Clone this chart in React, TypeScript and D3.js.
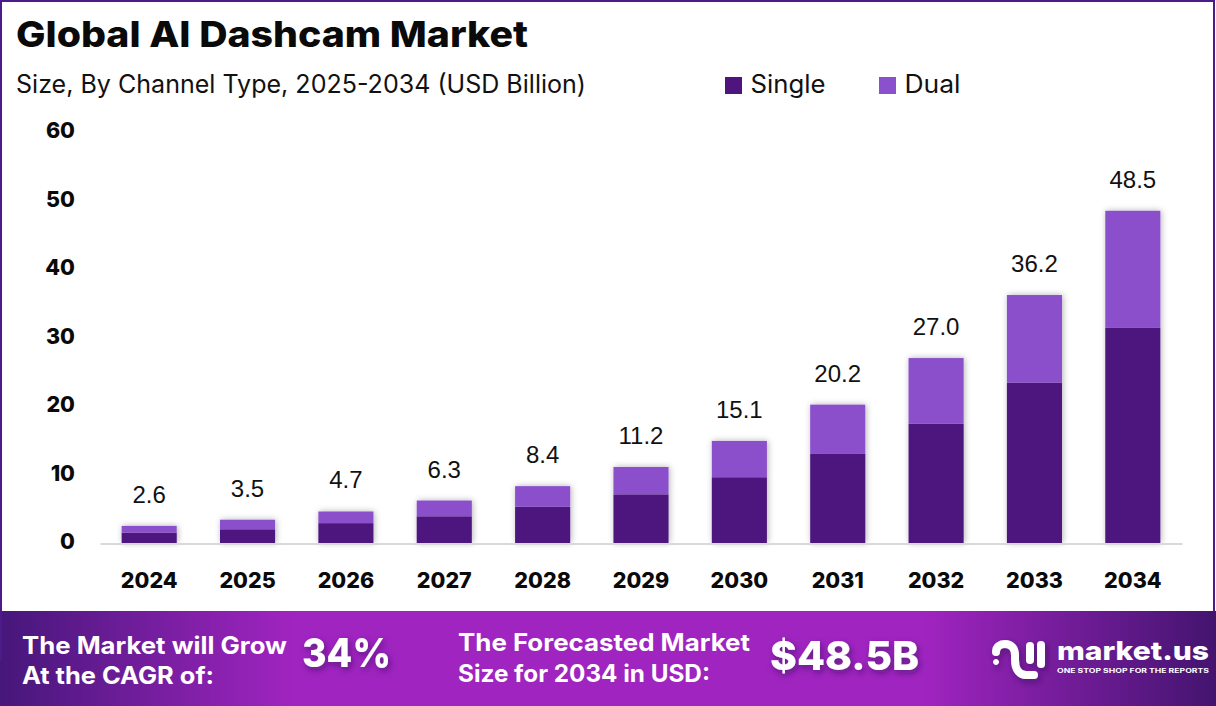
import React, { useEffect, useRef } from 'react';
import * as d3 from 'd3';

const years = ['2024', '2025', '2026', '2027', '2028', '2029', '2030', '2031', '2032', '2033', '2034'];
const single = [1.5, 2.0, 2.9, 3.9, 5.3, 7.1, 9.6, 13.0, 17.4, 23.4, 31.4];
const dual = [1.0, 1.4, 1.7, 2.3, 3.0, 4.0, 5.3, 7.2, 9.6, 12.8, 17.1];
const totals = ['2.6', '3.5', '4.7', '6.3', '8.4', '11.2', '15.1', '20.2', '27.0', '36.2', '48.5'];
const yTicks = [0, 10, 20, 30, 40, 50, 60];
const seriesNames = ['Single', 'Dual'];
const seriesColors = ['#4e157f', '#8b50cc'];

const width = 1216;
const height = 706;
const font = 'Inter, "Open Sans", sans-serif';

export default function App() {
  const svgRef = useRef<SVGSVGElement>(null);

  useEffect(() => {
    if (!svgRef.current) return;
    const svg = d3.select(svgRef.current);
    svg.selectAll('*').remove();

    const defs = svg.append('defs');

    const bannerGrad = defs.append('linearGradient').attr('id', 'banner');
    [['0%', '#46177a'], ['24%', '#a024c0'], ['76%', '#a024c0'], ['100%', '#43146f']].forEach(([o, c]) => {
      bannerGrad.append('stop').attr('offset', o).attr('stop-color', c);
    });

    const barShadow = defs.append('filter').attr('id', 'barShadow').attr('x', '-20%').attr('y', '-10%').attr('width', '140%').attr('height', '120%');
    barShadow.append('feDropShadow').attr('dx', 1).attr('dy', 0).attr('stdDeviation', 3).attr('flood-color', '#000').attr('flood-opacity', 0.3);

    const textShadow = defs.append('filter').attr('id', 'textShadow').attr('x', '-20%').attr('y', '-30%').attr('width', '140%').attr('height', '170%');
    textShadow.append('feDropShadow').attr('dx', 2).attr('dy', 3).attr('stdDeviation', 3).attr('flood-color', '#2a0a50').attr('flood-opacity', 0.55);

    svg.append('rect').attr('width', width).attr('height', height).attr('fill', '#fff');

    const text = (
      x: number, y: number, s: string, size: number, weight: number, fill: string,
      opts: { anchor?: string; len?: number } = {}
    ) => {
      const t = svg.append('text').attr('x', x).attr('y', y).text(s)
        .attr('font-family', font).attr('font-size', size).attr('font-weight', weight)
        .attr('fill', fill).attr('text-anchor', opts.anchor || 'start');
      if (opts.len) t.attr('textLength', opts.len).attr('lengthAdjust', 'spacingAndGlyphs');
      return t;
    };

    // Titles
    text(16, 47, 'Global AI Dashcam Market', 36, 800, '#0a0a0a', { len: 512 });
    text(16, 93, 'Size, By Channel Type, 2025-2034 (USD Billion)', 25, 400, '#111', { len: 570 });

    // Legend
    const legendX = [725, 879];
    seriesNames.forEach((name, i) => {
      svg.append('rect').attr('x', legendX[i]).attr('y', 77).attr('width', 17).attr('height', 17).attr('fill', seriesColors[i]);
      text(legendX[i] + 25.5, 93, name, 25, 400, '#111', { len: i === 0 ? 75 : 56 });
    });

    // Scales
    const x = d3.scaleBand().domain(years).range([100, 1182]).paddingInner(0.44).paddingOuter(0.22);
    const y = d3.scaleLinear().domain([0, 60]).range([543, 132]);

    const rows = years.map((year, i) => ({ year, Single: single[i], Dual: dual[i] }));
    const stacked = d3.stack<any>().keys(seriesNames)(rows);

    // Bars
    const barsG = svg.append('g');
    barsG.selectAll('g')
      .data(stacked)
      .enter()
      .append('g')
      .attr('fill', (_d, i) => seriesColors[i])
      .selectAll('rect')
      .data(d => d)
      .enter()
      .append('rect')
      .attr('x', d => x(d.data.year) as number)
      .attr('y', d => y(d[1]))
      .attr('width', x.bandwidth())
      .attr('height', d => y(d[0]) - y(d[1]));
    barsG.attr('filter', 'url(#barShadow)');

    // Axes
    const xAxis = svg.append('g').attr('transform', 'translate(0,543.5)')
      .call(d3.axisBottom(x).tickSize(0).tickPadding(44));
    xAxis.select('.domain').attr('stroke', '#d9d9d9').attr('stroke-width', 2);
    xAxis.selectAll('text').attr('font-family', font).attr('font-size', 21.5).attr('font-weight', 800).attr('fill', '#0a0a0a').attr('dy', '0');

    const yAxis = svg.append('g').attr('transform', 'translate(75,-1)')
      .call(d3.axisLeft(y).tickValues(yTicks).tickSize(0).tickPadding(0));
    yAxis.select('.domain').remove();
    yAxis.selectAll('text').attr('font-family', font).attr('font-size', 21.5).attr('font-weight', 800).attr('fill', '#0a0a0a');

    // Total labels
    svg.append('g').selectAll('text')
      .data(years)
      .enter()
      .append('text')
      .attr('x', d => (x(d) as number) + x.bandwidth() / 2)
      .attr('y', (_d, i) => y(single[i] + dual[i]) - 23)
      .attr('text-anchor', 'middle')
      .attr('font-family', '"Liberation Sans", Arial, sans-serif')
      .attr('font-size', 24)
      .attr('fill', '#111')
      .text((_d, i) => totals[i]);

    // Banner
    svg.append('rect').attr('x', 0).attr('y', 611).attr('width', width).attr('height', 95).attr('fill', 'url(#banner)');
    text(22, 654, 'The Market will Grow', 24, 700, '#fff', { len: 265 });
    text(22, 684, 'At the CAGR of:', 24, 700, '#fff', { len: 192 });
    text(302, 667, '34%', 40, 800, '#fff', { len: 89 }).attr('filter', 'url(#textShadow)');
    text(458, 651, 'The Forecasted Market', 24, 700, '#fff', { len: 292 });
    text(458, 682, 'Size for 2034 in USD:', 24, 700, '#fff', { len: 252 });
    text(770, 670, '$48.5B', 40, 800, '#fff', { len: 149 }).attr('filter', 'url(#textShadow)');

    // Frame, open at the bottom: left side runs a little over the banner
    svg.append('path').attr('d', 'M1 661 L1 1 L1214 1 L1214 611')
      .attr('fill', 'none').attr('stroke', '#4e1a8a').attr('stroke-width', 2);

    // Logo
    const logo = svg.append('g').attr('filter', 'url(#textShadow)').attr('fill', 'none').attr('stroke', '#fff').attr('stroke-width', 8).attr('stroke-linecap', 'round');
    logo.append('path').attr('d', 'M996 652 C996 646 1001 644 1005 644 C1012 644 1015 649 1015 655 L1015 660 C1015 670 1020 675 1026 675 L1034 675');
    logo.append('path').attr('d', 'M1030 646 L1030 660');
    logo.append('path').attr('d', 'M1041 645 L1041 664');
    logo.append('circle').attr('cx', 996).attr('cy', 662).attr('r', 2.5).attr('fill', '#fff').attr('stroke-width', 1);
    text(1057, 660, 'market.us', 26, 800, '#fff', { len: 152 });
    text(1057, 672.5, 'ONE STOP SHOP FOR THE REPORTS', 6, 700, '#fff', { len: 152 });
  }, []);

  return <svg ref={svgRef} width={width} height={height} style={{ position: 'absolute', left: 0, top: 0 }} />;
}
